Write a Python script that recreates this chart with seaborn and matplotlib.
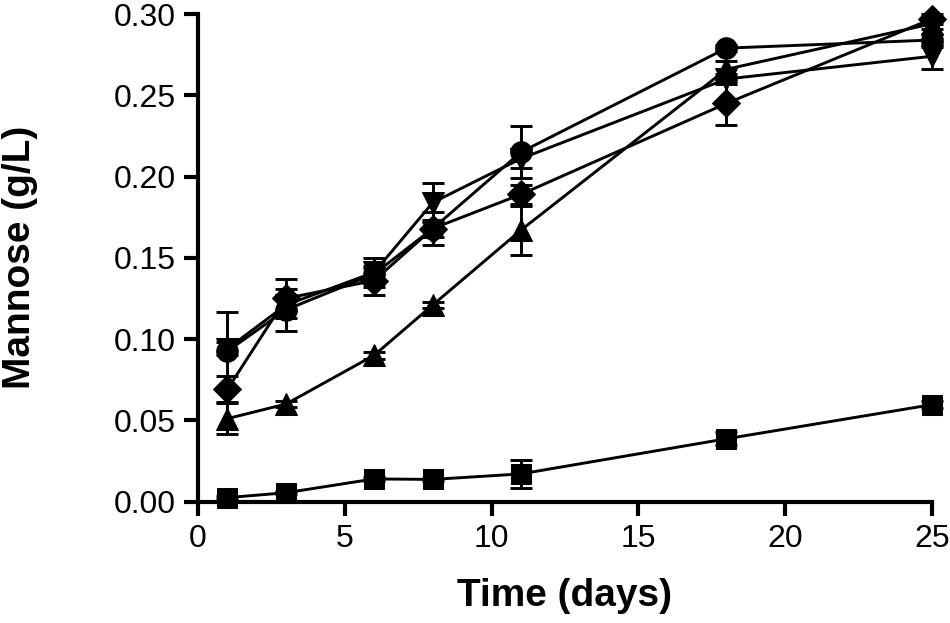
import numpy as np
import pandas as pd
import matplotlib
matplotlib.use("Agg")
import matplotlib.pyplot as plt
import seaborn as sns

# Data (mean and error bar half-length)
days = [1, 3, 6, 8, 11, 18, 25]

square = [0.0024, 0.0054, 0.0139, 0.0136, 0.0170, 0.0386, 0.0596]
square_err = [0.001, 0.001, 0.001, 0.001, 0.0085, 0.004, 0.002]

triangle = [0.051, 0.060, 0.090, 0.121, 0.167, 0.266, 0.294]
triangle_err = [0.0095, 0.002, 0.002, 0.002, 0.015, 0.005, 0.003]

inv_triangle = [0.094, 0.121, 0.141, 0.184, 0.211, 0.260, 0.274]
inv_triangle_err = [0.004, 0.004, 0.009, 0.012, 0.006, 0.003, 0.008]

circle = [0.0925, 0.118, 0.140, 0.168, 0.215, 0.279, 0.284]
circle_err = [0.024, 0.013, 0.004, 0.010, 0.016, 0.002, 0.004]

diamond = [0.069, 0.125, 0.136, 0.168, 0.189, 0.245, 0.297]
diamond_err = [0.008, 0.012, 0.009, 0.005, 0.006, 0.013, 0.003]

series = {
    "square": (square, square_err, "s", 15),
    "triangle": (triangle, triangle_err, "^", 16),
    "inv_triangle": (inv_triangle, inv_triangle_err, "v", 16),
    "circle": (circle, circle_err, "o", 15.5),
    "diamond": (diamond, diamond_err, "D", 14),
}

sns.set_style("ticks", {"axes.edgecolor": "black", "text.color": "black",
                        "axes.labelcolor": "black", "xtick.color": "black",
                        "ytick.color": "black"})
plt.rcParams["font.family"] = ["Liberation Sans", "DejaVu Sans"]

fig, ax = plt.subplots(figsize=(9.5, 6.23), dpi=100)
fig.subplots_adjust(left=0.2084, right=0.981, bottom=0.195, top=0.9775)

for i, (name, (vals, errs, mk, ms)) in enumerate(series.items()):
    df = pd.DataFrame({"day": days, "mannose": vals})
    ax.errorbar(days, vals, yerr=errs, fmt="none", ecolor="black",
                elinewidth=2.1, capsize=8, capthick=2.1, zorder=2 + i * 0.1,
                clip_on=False)
    sns.lineplot(data=df, x="day", y="mannose", ax=ax, color="black",
                 marker=mk, markersize=ms, markeredgecolor="black",
                 linewidth=2.1, errorbar=None, legend=False, clip_on=False,
                 zorder=3 + i * 0.1)

ax.set_xlim(0, 25)
ax.set_ylim(0, 0.30)
ax.set_xticks([0, 5, 10, 15, 20, 25])
ax.set_yticks([0.00, 0.05, 0.10, 0.15, 0.20, 0.25, 0.30])
ax.yaxis.set_major_formatter(matplotlib.ticker.FormatStrFormatter("%.2f"))

sns.despine(ax=ax)
for side in ["left", "bottom"]:
    ax.spines[side].set_linewidth(3)
    ax.spines[side].set_color("black")
ax.tick_params(direction="out", length=10, width=3, labelsize=23, pad=6,
               color="black", labelcolor="black")

ax.set_xlabel("Time (days)", fontsize=28, fontweight="bold", color="black")
ax.set_ylabel("Mannose (g/L)", fontsize=28, fontweight="bold", color="black")
ax.xaxis.set_label_coords(0.5, -0.157)
ax.yaxis.set_label_coords(-0.218, 0.5)

fig.savefig("out.png", dpi=100)
